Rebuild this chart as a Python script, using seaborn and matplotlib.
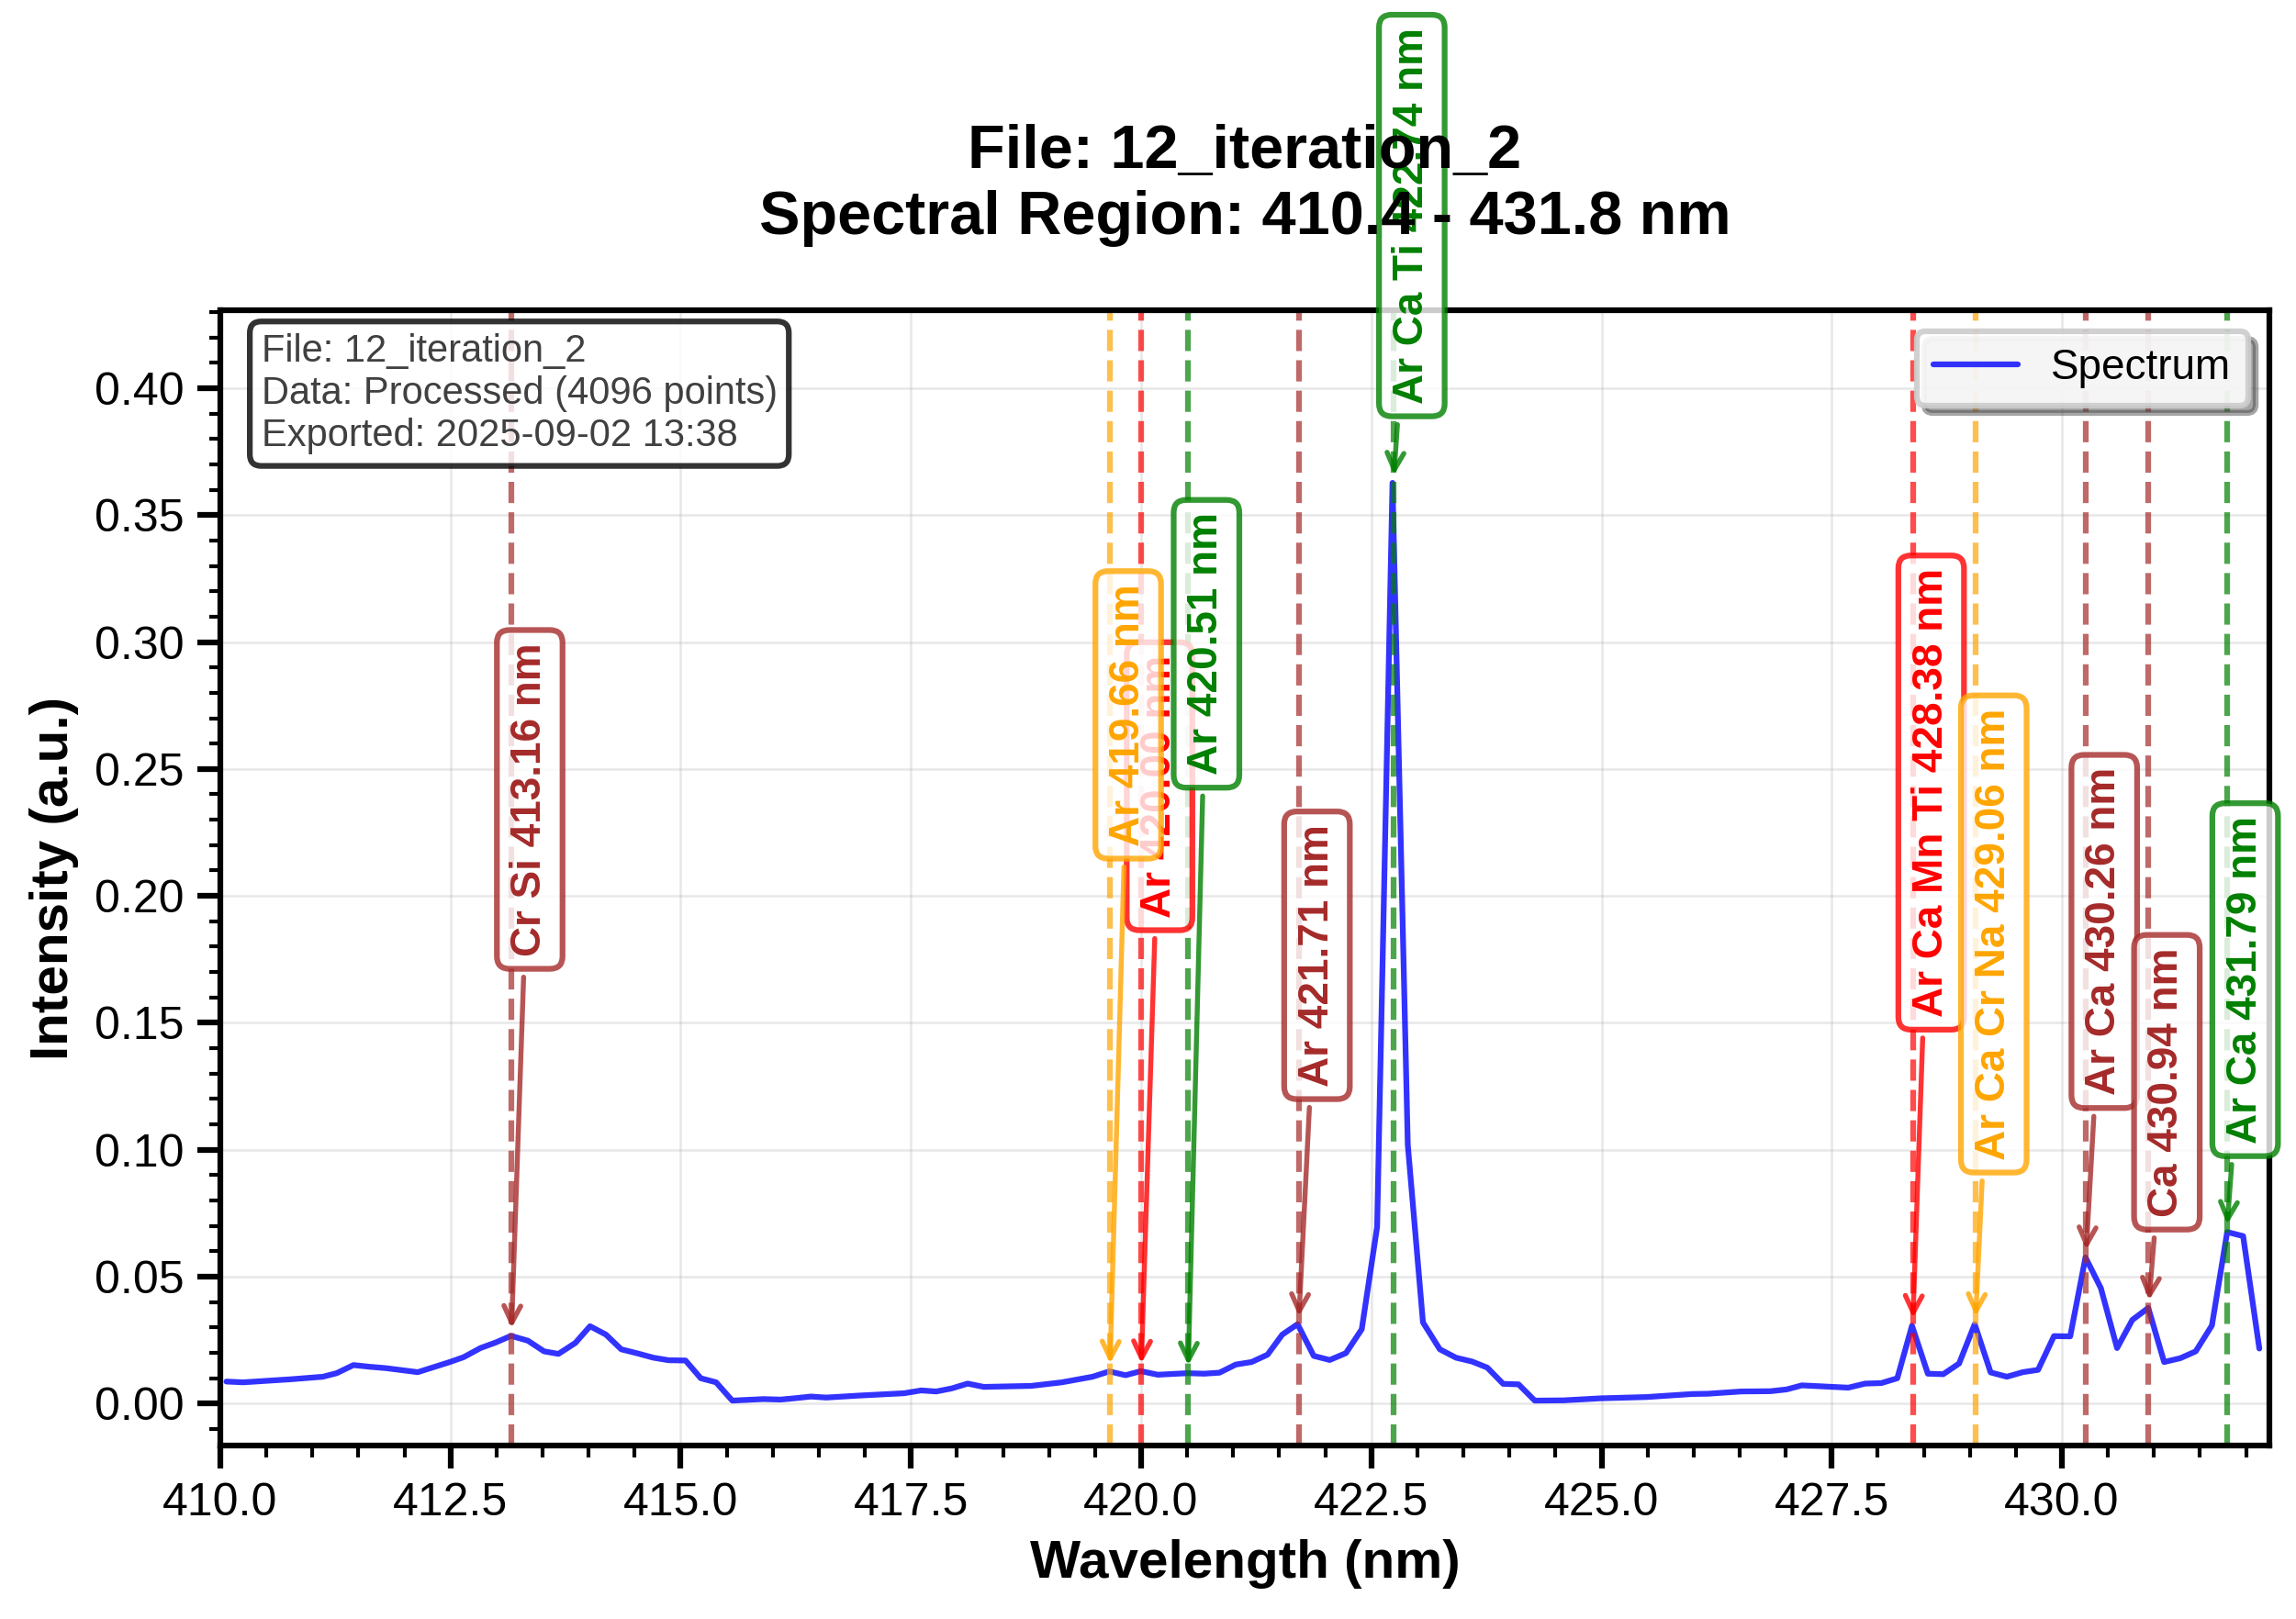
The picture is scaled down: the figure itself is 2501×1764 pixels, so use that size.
import numpy as np
import pandas as pd
import matplotlib
matplotlib.use("Agg")
import matplotlib.pyplot as plt
from matplotlib.ticker import MultipleLocator, AutoMinorLocator
import seaborn as sns

sns.set_style("ticks")
plt.rcParams['font.family'] = ['Liberation Sans', 'DejaVu Sans']
plt.rcParams['text.color'] = 'black'
plt.rcParams['axes.labelcolor'] = 'black'

# spectrum
wavelength = [410.066, 410.249, 410.764, 411.113, 411.263, 411.446, 411.628, 411.795,
              412.144, 412.493, 412.642, 412.825, 412.991, 413.157, 413.340, 413.516,
              413.672, 413.855, 414.015, 414.188, 414.354, 414.520, 414.703, 414.869,
              415.052, 415.218, 415.384, 415.560, 415.899, 416.082, 416.231, 416.414,
              416.580, 416.946, 417.427, 417.610, 417.776, 417.943, 418.116, 418.292,
              418.807, 419.140, 419.472, 419.654, 419.831, 419.997, 420.180, 420.502,
              420.685, 420.851, 421.028, 421.200, 421.373, 421.533, 421.699, 421.875,
              422.048, 422.224, 422.396, 422.563, 422.730, 422.896, 423.061, 423.244,
              423.420, 423.593, 423.759, 423.932, 424.099, 424.275, 424.590, 424.989,
              425.488, 425.987, 426.153, 426.518, 426.834, 427.010, 427.176, 427.680,
              427.863, 428.039, 428.212, 428.372, 428.544, 428.711, 428.883, 429.053,
              429.226, 429.402, 429.575, 429.741, 429.914, 430.090, 430.256, 430.423,
              430.599, 430.765, 430.938, 431.110, 431.286, 431.453, 431.629, 431.795,
              431.968, 432.144]
intensity = [0.0087, 0.0084, 0.0096, 0.0106, 0.0120, 0.0152, 0.0145, 0.0140,
             0.0124, 0.0164, 0.0183, 0.0219, 0.0241, 0.0267, 0.0248, 0.0206,
             0.0196, 0.0239, 0.0305, 0.0272, 0.0214, 0.0199, 0.0181, 0.0171,
             0.0170, 0.0100, 0.0084, 0.0012, 0.0018, 0.0016, 0.0021, 0.0028,
             0.0024, 0.0032, 0.0041, 0.0052, 0.0048, 0.0060, 0.0079, 0.0066,
             0.0070, 0.0084, 0.0106, 0.0127, 0.0112, 0.0128, 0.0114, 0.0120,
             0.0118, 0.0122, 0.0154, 0.0164, 0.0193, 0.0272, 0.0313, 0.0188,
             0.0172, 0.0199, 0.0293, 0.0696, 0.3627, 0.1020, 0.0320, 0.0214,
             0.0181, 0.0166, 0.0142, 0.0078, 0.0076, 0.0012, 0.0013, 0.0021,
             0.0026, 0.0038, 0.0039, 0.0048, 0.0049, 0.0056, 0.0072, 0.0063,
             0.0079, 0.0081, 0.0100, 0.0307, 0.0118, 0.0116, 0.0158, 0.0313,
             0.0123, 0.0106, 0.0124, 0.0133, 0.0266, 0.0265, 0.0576, 0.0455,
             0.0219, 0.0330, 0.0377, 0.0164, 0.0179, 0.0206, 0.0308, 0.0676,
             0.0660, 0.0217]

# identified lines
line_wl = [413.16, 420.00, 419.66, 420.51, 421.71, 422.74,
           428.38, 429.06, 430.26, 430.94, 431.79]
line_elements = ["Cr Si", "Ar", "Ar", "Ar", "Ar", "Ar Ca Ti",
                 "Ar Ca Mn Ti", "Ar Ca Cr Na", "Ar Ca", "Ca", "Ar Ca"]
line_colors = ["brown", "red", "orange", "green", "brown", "green",
               "red", "orange", "brown", "brown", "green"]
# label centre heights (layout)
label_y = [0.238, 0.2432, 0.2713, 0.2993, 0.1766, 0.468,
           0.2407, 0.185, 0.186, 0.1266, 0.167]

df = pd.DataFrame({"wavelength": wavelength, "intensity": intensity})

fig = plt.figure(figsize=(2501 / 300, 1764 / 300), dpi=300)
ax = fig.add_axes([0.09596, 0.10714, 0.98828 - 0.09596, 0.80839 - 0.10714])

sns.lineplot(data=df, x="wavelength", y="intensity", ax=ax, color="blue",
             alpha=0.8, lw=1.5, label="Spectrum", sort=False, estimator=None)

wl_arr = df["wavelength"].values
int_arr = df["intensity"].values
for wl, el, c, ty in zip(line_wl, line_elements, line_colors, label_y):
    ax.axvline(wl, color=c, ls="--", lw=1.5, alpha=0.7)
for wl, el, c, ty in zip(line_wl, line_elements, line_colors, label_y):
    idx = np.argmin(np.abs(wl_arr - wl))
    ax.annotate(f"{el} {wl:.2f} nm", xy=(wl, int_arr[idx]), xytext=(wl + 0.2, ty),
                rotation=90, ha="center", va="center", fontsize=11,
                fontweight="bold", color=c,
                bbox=dict(boxstyle="round,pad=0.3", fc="white", ec=c, alpha=0.8, lw=1.5),
                arrowprops=dict(arrowstyle="->", color=c, lw=1.3, alpha=0.8))

ax.set_xlim(410.0, 432.25)
ax.set_ylim(-0.0165, 0.4307)
ax.xaxis.set_major_locator(MultipleLocator(2.5))
ax.yaxis.set_major_locator(MultipleLocator(0.05))
ax.xaxis.set_minor_locator(AutoMinorLocator(5))
ax.yaxis.set_minor_locator(AutoMinorLocator(5))
ax.tick_params(which="major", length=6, width=1.5, labelsize=12, colors="black")
ax.tick_params(which="minor", length=3, width=1.0, colors="black")
ax.grid(True, which="major", color="#b0b0b0", alpha=0.3, lw=0.6)
for sp in ax.spines.values():
    sp.set_linewidth(1.5)
    sp.set_color("black")

ax.set_xlabel("Wavelength (nm)", fontsize=14, fontweight="bold", color="black")
ax.set_ylabel("Intensity (a.u.)", fontsize=14, fontweight="bold", color="black")
ax.set_title("File: 12_iteration_2\nSpectral Region: 410.4 - 431.8 nm",
             fontsize=16, fontweight="bold", pad=20, color="black")

ax.text(0.02, 0.98, "File: 12_iteration_2\nData: Processed (4096 points)\nExported: 2025-09-02 13:38",
        transform=ax.transAxes, va="top", ha="left", fontsize=10, color="#404040",
        bbox=dict(boxstyle="round,pad=0.3", fc="white", ec="black", alpha=0.8, lw=1.5))

leg = ax.legend(loc="upper right", fontsize=11, frameon=True, fancybox=True,
                shadow=True, framealpha=0.9)
leg.get_frame().set_linewidth(1.5)
for t in leg.get_texts():
    t.set_color("black")

fig.savefig("out.png", dpi=300)
